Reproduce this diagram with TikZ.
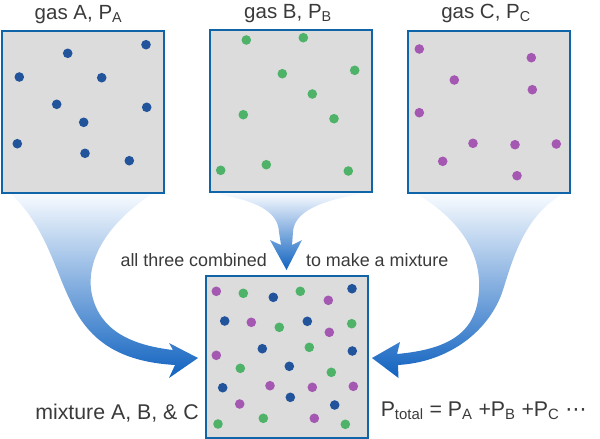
\documentclass[tikz,border=0pt]{standalone}
\usepackage{fontspec}
\setmainfont{Liberation Sans}
\newfontfamily\dvsans{DejaVu Sans}
\definecolor{boxblue}{RGB}{16,100,168}
\definecolor{boxgray}{RGB}{220,220,220}
\definecolor{dotA}{RGB}{34,84,156}
\definecolor{dotB}{RGB}{78,178,104}
\definecolor{dotC}{RGB}{164,88,178}
\definecolor{arrowblue}{RGB}{16,98,192}
\definecolor{arrowtop}{RGB}{248,251,255}
\definecolor{txt}{RGB}{58,58,58}
\begin{document}
\begin{tikzpicture}[x=1pt,y=-1pt,
  gasbox/.style={draw=boxblue, fill=boxgray, line width=2pt, minimum width=162pt, minimum height=162pt, inner sep=0pt},
  lbl/.style={inner sep=0pt, anchor=base, text=txt, font=\fontsize{20.5}{24}\selectfont},
  biglbl/.style={inner sep=0pt, anchor=base, text=txt, font=\fontsize{21.3}{25}\selectfont},
  midlbl/.style={inner sep=0pt, anchor=base, text=txt, font=\fontsize{17.9}{21}\selectfont},
  flow/.style={top color=arrowtop, bottom color=arrowblue, draw=none},
  dA/.style={fill=dotA}, dB/.style={fill=dotB}, dC/.style={fill=dotC}]
\useasboundingbox (0,0) rectangle (600,439);
% flow arrows
\shade[flow] (10,193) .. controls (45,225) and (55,270) .. (70,300)
  .. controls (90,345) and (125,362) .. (175,365)
  -- (169,378) -- (198,358) -- (169,343) -- (173,350)
  .. controls (130,345) and (100,330) .. (92,295)
  .. controls (85,262) and (105,225) .. (153,193) -- cycle;
\shade[flow] (210,193) .. controls (258,200) and (278,212) .. (279,232)
  -- (281,245) -- (270,240) -- (286.5,270) -- (302,240) -- (292,245) -- (293,232)
  .. controls (294,212) and (320,200) .. (367,193) -- cycle;
\shade[flow] (417,194) .. controls (460,220) and (485,255) .. (478,300)
  .. controls (472,338) and (440,350) .. (397,354)
  -- (400,342) -- (372,358) -- (398.5,378) -- (398,365)
  .. controls (450,362) and (490,330) .. (503,290)
  .. controls (513,258) and (525,215) .. (563,194) -- cycle;
% boxes
\node[gasbox] (boxA) at (82.5,112) {};
\node[gasbox] (boxB) at (291,111) {};
\node[gasbox] (boxC) at (489,111.5) {};
\node[gasbox, minimum height=161.5pt] (boxM) at (287,357) {};
% labels
\node[lbl] (labA) at (78.5,19.5) {gas A, P\textsubscript{A}};
\node[lbl] (labB) at (288,18.5) {gas B, P\textsubscript{B}};
\node[lbl] (labC) at (486,18.5) {gas C, P\textsubscript{C}};
\node[midlbl] (labL) at (193.7,266) {all three combined};
\node[midlbl] (labR) at (377.2,266) {to make a mixture};
\node[biglbl] (labM) at (117,419) {mixture A, B, \& C};
\node[biglbl] (labP) at (483.7,416) {P\textsubscript{total} = P\textsubscript{A} +P\textsubscript{B} +P\textsubscript{C} {\dvsans ⋯}};
% gas A dots
\foreach \p in {(67.7,53.3),(146,44.7),(19.3,77),(101.7,77.7),(56.7,104.3),(146.7,107.3),(83.7,122.3),(17.3,143.7),(85,153.3),(129.3,160.7)}
  \fill[dA] \p circle (4.8);
% gas B dots
\foreach \p in {(246.3,40),(303.3,37.7),(282.3,73.7),(354.7,70.3),(312.3,94),(243.3,114.7),(334,118.7),(220.7,170.3),(266.3,164.7),(348.3,171)}
  \fill[dB] \p circle (4.8);
% gas C dots
\foreach \p in {(419.3,49),(531.3,57.7),(454.3,80),(532.3,89.7),(419.3,112.7),(473,143.3),(515,144.7),(556.3,144),(442.7,161.3),(517,175.7)}
  \fill[dC] \p circle (4.8);
% mixture dots
\foreach \p in {(273.3,297.3),(352,288.7),(224.7,321),(307.3,321.3),(262.3,348.7),(352.3,351),(289.3,366.3),(222.7,387.7),(290.3,397.3),(334.7,405)}
  \fill[dA] \p circle (4.8);
\foreach \p in {(243.3,293.3),(300.3,291.3),(279.3,327.3),(351.7,323.7),(309.3,347.3),(240.3,368.3),(331.3,372.3),(218,424),(263.3,418.3),(345.3,424.3)}
  \fill[dB] \p circle (4.8);
\foreach \p in {(216.3,291.3),(328.3,300.3),(251.3,322.3),(329.3,332.3),(216.3,355.3),(270,385.7),(312.3,387.3),(353.3,386.3),(239.7,404),(314.3,418.3)}
  \fill[dC] \p circle (4.8);
\end{tikzpicture}
\end{document}
